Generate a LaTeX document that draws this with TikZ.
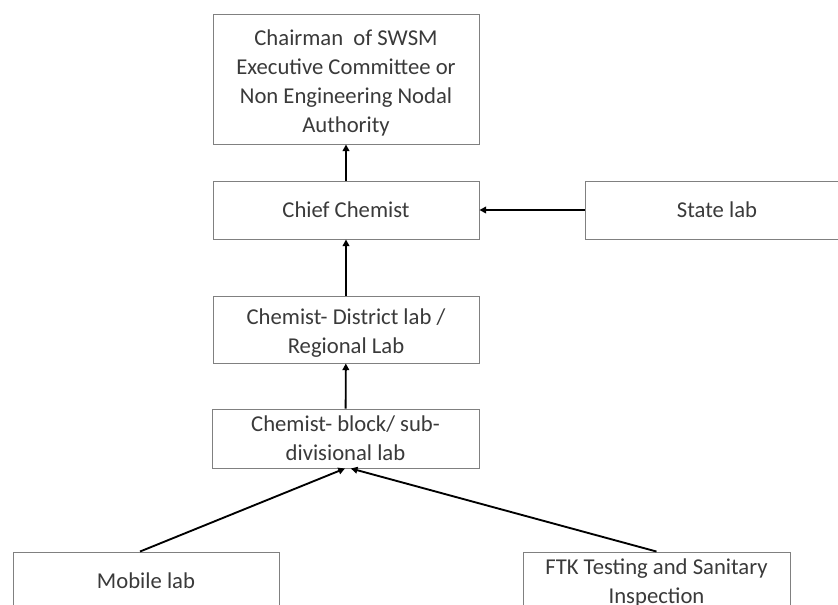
\documentclass[tikz,border=0pt]{standalone}
\usepackage{fontspec}
\setmainfont{Carlito}
\usetikzlibrary{arrows.meta}
\definecolor{boxline}{HTML}{808080}
\definecolor{txt}{HTML}{3A3A3A}
\tikzset{
  labfont/.style={text=txt, align=center, font=\fontsize{17}{21.75}\selectfont},
  unit/.style={rectangle, draw=boxline, line width=0.7pt, fill=white,
    labfont, inner sep=2pt},
  link/.style={draw=black, line width=1.4pt,
    -{Triangle[length=5pt,width=5pt]}}
}
\begin{document}
\begin{tikzpicture}[x=0.75pt,y=-0.75pt]
  \useasboundingbox (0,0) rectangle (838,604);
  \clip (0,0) rectangle (838,604);
  % hierarchy of laboratories
  \node[unit, minimum width=266*0.75pt, minimum height=130*0.75pt,
    label={[labfont, yshift=-3pt]center:{Chairman~ of SWSM\\Executive Committee or\\Non Engineering Nodal\\Authority}}]
    (chair) at (346,79) {};
  \node[unit, minimum width=266*0.75pt, minimum height=58*0.75pt] (chief) at (346,210)
    {Chief Chemist};
  \node[unit, minimum width=280*0.75pt, minimum height=58*0.75pt,
    label={[labfont, xshift=-6pt]center:State lab}] (state) at (725,210) {};
  \node[unit, minimum width=266*0.75pt, minimum height=67*0.75pt,
    label={[labfont, yshift=-3pt]center:{Chemist- District lab /\\Regional Lab}}]
    (district) at (346,329.5) {};
  \node[unit, minimum width=267*0.75pt, minimum height=59*0.75pt] (block) at (345.5,438.5)
    {Chemist- block/ sub-\\divisional lab};
  \node[unit, minimum width=266*0.75pt, minimum height=58*0.75pt] (mobile) at (146,581)
    {Mobile lab};
  \node[unit, minimum width=267*0.75pt, minimum height=58*0.75pt,
    label={[labfont, yshift=-1.5pt]center:{FTK Testing and Sanitary\\Inspection}}]
    (ftk) at (656.5,581) {};
  % reporting lines
  \draw[link] (chief) -- (chair);
  \draw[link] (state) -- (chief);
  \draw[link] (district) -- (chief);
  \draw[link] (block) -- (district);
  \draw[link] ([xshift=-4.5pt]mobile.north) -- ([xshift=-0.4pt]block.south);
  \draw[link] (ftk.north) -- ([xshift=4pt]block.south);
\end{tikzpicture}
\end{document}
